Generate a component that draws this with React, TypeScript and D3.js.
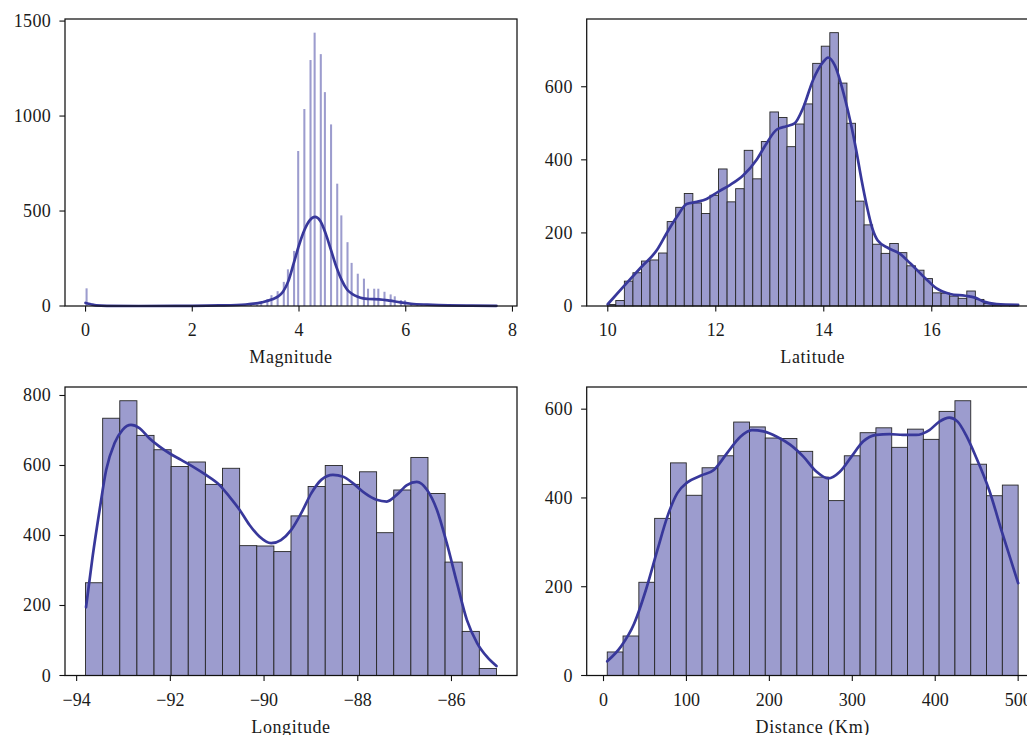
import React from 'react';
import * as d3 from 'd3';

const W = 1027;
const H = 735;
const FONT = '"Liberation Serif", "Times New Roman", serif';
const FS = 18;
const LINE = '#38389b';
const FILL = '#9c9cce';
const EDGE = '#262626';
const TXT = '#1a1a1a';

// ---------- Magnitude ----------
const magRange = [0, 7.7];
const magBinCount = 200;
const magValues = [0, 2.8, 2.9, 3.0, 3.1, 3.2, 3.3, 3.4, 3.5, 3.6, 3.7, 3.8, 3.9, 4.0, 4.1, 4.2, 4.3, 4.4, 4.5, 4.6, 4.7, 4.8, 4.9, 5.0, 5.1, 5.2, 5.3, 5.4, 5.5, 5.6, 5.7, 5.8, 5.9, 6.0, 6.1, 6.2, 6.3, 6.4, 6.5, 6.6, 6.8, 7.0, 7.7];
const magCounts = [93, 2, 3, 4, 6, 8, 20, 36, 57, 78, 127, 193, 290, 816, 1037, 1295, 1439, 1326, 1126, 956, 644, 477, 336, 227, 170, 144, 91, 91, 91, 75, 61, 51, 31, 30, 10, 7, 5, 4, 3, 2, 2, 1, 1];
const magKdeX = [0, 0.1, 0.2, 0.4, 1.0, 2.0, 2.5, 3.0, 3.3, 3.5, 3.6, 3.7, 3.8, 3.9, 4.0, 4.1, 4.2, 4.3, 4.4, 4.5, 4.6, 4.7, 4.8, 4.9, 5.0, 5.1, 5.2, 5.3, 5.5, 5.7, 5.9, 6.1, 6.4, 6.8, 7.2, 7.7];
const magKdeY = [16, 9, 3, 1, 0, 1, 3, 8, 19, 35, 49, 75, 131, 224, 320, 399, 451, 469, 448, 381, 294, 206, 136, 87, 63, 49, 40, 37, 35, 28, 19, 12, 7, 3, 2, 1];
const magXTicks = [0, 2, 4, 6, 8];
const magYTicks = [0, 500, 1000, 1500];

// ---------- Latitude ----------
const latRange = [9.99, 17.6];
const latCounts = [4, 15, 68, 91, 123, 126, 145, 231, 270, 308, 282, 253, 303, 375, 285, 321, 426, 348, 450, 531, 516, 436, 498, 553, 664, 711, 748, 610, 500, 287, 222, 169, 144, 171, 146, 110, 98, 75, 36, 35, 27, 21, 41, 18, 7, 3, 1, 1];
const latKdeX = [10.0, 10.29, 10.63, 10.91, 11.09, 11.28, 11.46, 11.65, 11.83, 12.05, 12.26, 12.51, 12.76, 12.94, 13.13, 13.31, 13.46, 13.62, 13.8, 13.99, 14.08, 14.2, 14.4, 14.5, 14.6, 14.7, 14.8, 14.9, 15.0, 15.2, 15.4, 15.6, 15.88, 16.09, 16.34, 16.62, 16.8, 16.96, 17.2, 17.6];
const latKdeY = [5, 53, 108, 153, 199, 244, 279, 285, 293, 313, 331, 358, 401, 445, 483, 492, 500, 543, 618, 668, 680, 660, 563, 500, 427, 345, 272, 212, 179, 158, 144, 117, 76, 48, 33, 28, 23, 12, 5, 3];
const latXTicks = [10, 12, 14, 16];
const latYTicks = [0, 200, 400, 600];

// ---------- Longitude ----------
const lonRange = [-93.81, -85.04];
const lonCounts = [265, 735, 785, 686, 645, 597, 610, 546, 592, 371, 370, 354, 456, 540, 600, 546, 582, 408, 530, 623, 520, 324, 126, 20];
const lonKdeX = [-93.8, -93.66, -93.51, -93.37, -93.19, -93.02, -92.84, -92.66, -92.45, -92.23, -92.02, -91.77, -91.52, -91.24, -90.95, -90.74, -90.52, -90.31, -90.1, -89.85, -89.64, -89.42, -89.21, -88.99, -88.78, -88.53, -88.31, -88.1, -87.85, -87.6, -87.38, -87.17, -86.95, -86.74, -86.52, -86.31, -86.1, -85.88, -85.67, -85.45, -85.24, -85.04];
const lonKdeY = [195, 339, 473, 587, 664, 702, 716, 707, 678, 654, 635, 616, 597, 573, 544, 511, 473, 430, 397, 378, 387, 416, 463, 521, 559, 573, 568, 549, 521, 502, 497, 516, 544, 553, 530, 473, 378, 263, 158, 92, 53, 27];
const lonXTicks = [-94, -92, -90, -88, -86];
const lonYTicks = [0, 200, 400, 600, 800];

// ---------- Distance ----------
const distRange = [4.5, 500];
const distCounts = [53, 89, 210, 354, 479, 406, 468, 495, 571, 560, 535, 534, 505, 447, 394, 495, 547, 558, 514, 555, 532, 595, 619, 476, 405, 429];
const distKdeX = [4.5, 21, 37, 51, 65, 77, 89, 101, 117, 133, 149, 165, 179, 193, 209, 225, 241, 257, 271, 285, 299, 313, 329, 345, 361, 377, 393, 405, 417, 427, 437, 449, 465, 481, 500];
const distKdeY = [32, 65, 117, 192, 283, 358, 411, 435, 450, 463, 501, 538, 553, 550, 538, 520, 493, 459, 444, 459, 493, 527, 542, 544, 542, 542, 553, 572, 581, 572, 542, 493, 418, 320, 208];
const distXTicks = [0, 100, 200, 300, 400, 500];
const distYTicks = [0, 200, 400, 600];

type Bar = { x0: number; x1: number; y: number };

function uniformBars(range: number[], counts: number[]): Bar[] {
  const n = counts.length;
  const w = (range[1] - range[0]) / n;
  return counts.map((c, i) => ({ x0: range[0] + i * w, x1: range[0] + (i + 1) * w, y: c }));
}

function valueBars(range: number[], nBins: number, values: number[], counts: number[]): Bar[] {
  const w = (range[1] - range[0]) / nBins;
  return values.map((v, i) => {
    let idx = Math.floor((v - range[0]) / w + 1e-9);
    if (idx >= nBins) idx = nBins - 1;
    return { x0: range[0] + idx * w, x1: range[0] + (idx + 1) * w, y: counts[i] };
  });
}

const fmt = (v: number) => (v < 0 ? '\u2212' + Math.abs(v) : String(v));

type PanelProps = {
  left: number; top: number; width: number; height: number;
  range: number[]; bars: Bar[]; kdeX: number[]; kdeY: number[];
  xTicks: number[]; yTicks: number[]; xLabel: string; edged: boolean;
};

function Panel(p: PanelProps) {
  const pad = (p.range[1] - p.range[0]) * 0.05;
  const x = d3.scaleLinear().domain([p.range[0] - pad, p.range[1] + pad]).range([p.left, p.left + p.width]);
  const yMax = d3.max(p.bars, (b) => b.y)! * 1.05;
  const bottom = p.top + p.height;
  const y = d3.scaleLinear().domain([0, yMax]).range([bottom, p.top]);
  const line = d3.line<number>().x((_, i) => x(p.kdeX[i])).y((d) => y(d)).curve(d3.curveMonotoneX);
  const tickLen = 5.6;
  return (
    <g>
      {p.bars.map((b, i) => (
        <rect key={i} x={x(b.x0)} y={y(b.y)} width={x(b.x1) - x(b.x0)} height={bottom - y(b.y)}
          fill={FILL} stroke={p.edged ? EDGE : 'none'} strokeWidth={p.edged ? 0.9 : 0} />
      ))}
      <path d={line(p.kdeY) || ''} fill="none" stroke={LINE} strokeWidth={2.7} strokeLinejoin="round" strokeLinecap="round" />
      <rect x={p.left} y={p.top} width={p.width} height={p.height} fill="none" stroke="#111" strokeWidth={1.25} />
      {p.xTicks.map((t) => (
        <g key={'x' + t}>
          <line x1={x(t)} x2={x(t)} y1={bottom} y2={bottom + tickLen} stroke="#111" strokeWidth={1.1} />
          <text x={x(t)} y={bottom + 30} textAnchor="middle" fontFamily={FONT} fontSize={FS} fill={TXT}>{fmt(t)}</text>
        </g>
      ))}
      {p.yTicks.map((t) => (
        <g key={'y' + t}>
          <line x1={p.left - tickLen} x2={p.left} y1={y(t)} y2={y(t)} stroke="#111" strokeWidth={1.1} />
          <text x={p.left - 14} y={y(t) + 6} textAnchor="end" fontFamily={FONT} fontSize={FS} fill={TXT} letterSpacing={0.3}>{fmt(t)}</text>
        </g>
      ))}
      <text x={p.left + p.width / 2} y={bottom + 57} textAnchor="middle" fontFamily={FONT} fontSize={FS} fill={TXT} letterSpacing={0.6}>{p.xLabel}</text>
    </g>
  );
}

export default function App() {
  const L1 = 65, L2 = 586.7, PW = 452;
  return (
    <svg width={W} height={H} style={{ position: 'absolute', left: 0, top: 0, background: '#fff' }}>
      <rect x={0} y={0} width={W} height={H} fill="#fff" />
      <Panel left={L1} top={19} width={PW} height={287} range={magRange}
        bars={valueBars(magRange, magBinCount, magValues, magCounts)} kdeX={magKdeX} kdeY={magKdeY}
        xTicks={magXTicks} yTicks={magYTicks} xLabel="Magnitude" edged={false} />
      <Panel left={L2} top={19} width={PW} height={287} range={latRange}
        bars={uniformBars(latRange, latCounts)} kdeX={latKdeX} kdeY={latKdeY}
        xTicks={latXTicks} yTicks={latYTicks} xLabel="Latitude" edged={true} />
      <Panel left={L1} top={387} width={PW} height={288.5} range={lonRange}
        bars={uniformBars(lonRange, lonCounts)} kdeX={lonKdeX} kdeY={lonKdeY}
        xTicks={lonXTicks} yTicks={lonYTicks} xLabel="Longitude" edged={true} />
      <Panel left={L2} top={387} width={PW} height={288.5} range={distRange}
        bars={uniformBars(distRange, distCounts)} kdeX={distKdeX} kdeY={distKdeY}
        xTicks={distXTicks} yTicks={distYTicks} xLabel="Distance (Km)" edged={true} />
    </svg>
  );
}
